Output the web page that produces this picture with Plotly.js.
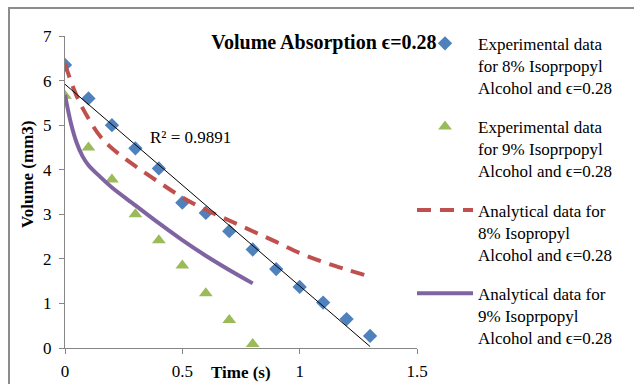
<!DOCTYPE html>
<html><head><meta charset="utf-8">
<script src="https://cdn.plot.ly/plotly-3.0.1.min.js"></script>
<style>html,body{margin:0;padding:0;background:#fff}#chart{width:634px;height:384px}</style>
</head><body><div id="chart"></div>
<script>
// Experimental data, 8% Isopropyl Alcohol
var xExp8 = [0,0.1,0.2,0.3,0.4,0.5,0.6,0.7,0.8,0.9,1.0,1.1,1.2,1.3];
var yExp8 = [6.35,5.6,5.0,4.48,4.03,3.26,3.03,2.62,2.21,1.77,1.37,1.02,0.65,0.27];
// Experimental data, 9% Isopropyl Alcohol
var xExp9 = [0,0.1,0.2,0.3,0.4,0.5,0.6,0.7,0.8];
var yExp9 = [5.66,4.5,3.78,3.0,2.42,1.85,1.23,0.63,0.09];
// Analytical data, 8%
var xAn8 = [0,0.05,0.1,0.15,0.2,0.3,0.4,0.5,0.6,0.7,0.8,0.9,1.0,1.1,1.2,1.3];
var yAn8 = [6.37,5.65,5.15,4.75,4.48,4.08,3.72,3.38,3.1,2.86,2.62,2.38,2.13,1.93,1.76,1.6];
// Analytical data, 9%
var xAn9 = [0,0.025,0.05,0.075,0.1,0.15,0.2,0.3,0.4,0.5,0.6,0.7,0.8];
var yAn9 = [5.68,5.05,4.6,4.3,4.1,3.84,3.6,3.2,2.8,2.42,2.07,1.75,1.45];

var names = [
  "Experimental data<br>for 8% Isoprpopyl<br>Alcohol and \u03f5=0.28",
  "Experimental data<br>for 9% Isoprpopyl<br>Alcohol and \u03f5=0.28",
  "Analytical data for<br>8% Isopropyl<br>Alcohol and \u03f5=0.28",
  "Analytical data for<br>9% Isoprpopyl<br>Alcohol and \u03f5=0.28"
];
var xTicks = [0,0.5,1,1.5];
var xTickText = ["0","0.5","1","1.5"];
var yTicks = [0,1,2,3,4,5,6,7];
var r2Text = "R\u00b2 = 0.9891";

// linear trendline (least squares) of the 8% experimental data
function linfit(xs, ys){
  var n = xs.length, mx=0, my=0;
  for (var i=0;i<n;i++){mx+=xs[i];my+=ys[i];}
  mx/=n; my/=n;
  var sxy=0,sxx=0;
  for (var i=0;i<n;i++){sxy+=(xs[i]-mx)*(ys[i]-my);sxx+=(xs[i]-mx)*(xs[i]-mx);}
  var b=sxy/sxx; return {a:my-b*mx,b:b};
}
var fit = linfit(xExp8, yExp8);
var xFit = [Math.min.apply(null,xExp8), Math.max.apply(null,xExp8)];
var yFit = xFit.map(function(x){return fit.a+fit.b*x;});

var FAM = 'Liberation Serif';

var traces = [
  {x:xExp8, y:yExp8, mode:'markers', name:names[0], legendgroup:'a', legendrank:1,
   marker:{symbol:'diamond', size:11, color:'#4F81BD'}},
  {x:xExp9, y:yExp9, mode:'markers', name:names[1], legendgroup:'b', legendrank:2,
   marker:{symbol:'triangle-up', size:12, color:'#9BBB59'}},
  {x:xAn8, y:yAn8, mode:'lines', name:names[2], legendgroup:'c', legendrank:3,
   line:{color:'#C0504D', width:4, dash:'14px,9px', shape:'spline'}},
  {x:xAn9, y:yAn9, mode:'lines', name:names[3], legendgroup:'d', legendrank:4,
   line:{color:'#8064A2', width:4, shape:'spline'}},
  {x:xFit, y:yFit, mode:'lines', line:{color:'#000', width:1}, showlegend:false, hoverinfo:'skip', legendgroup:'e'}
];

var axisCommon = {showgrid:false, zeroline:false, showline:true, linecolor:'#868686', linewidth:1,
  ticks:'outside', ticklen:5, tickcolor:'#868686', tickfont:{family:FAM, size:17, color:'#000'}, fixedrange:true};

var layout = {
  width:634, height:384,
  margin:{l:65, r:217, t:36, b:36},
  paper_bgcolor:'#fff', plot_bgcolor:'#fff',
  font:{family:FAM, size:17, color:'#000'},
  title:{text:'<b>Volume Absorption \u03f5=0.28</b>', font:{family:FAM, size:20, color:'#000'},
    x:0.511, xanchor:'center', xref:'container', y:1-42/384, yanchor:'middle', yref:'container'},
  xaxis:Object.assign({}, axisCommon, {range:[0,1.5], tickvals:xTicks, ticktext:xTickText, ticklabelstandoff:3}),
  yaxis:Object.assign({}, axisCommon, {range:[0,7], tickvals:yTicks, ticklabelstandoff:4}),
  legend:{x:1.0-5/352, xanchor:'left', y:1.02+4/312, yanchor:'top', valign:'top', tracegroupgap:14,
    itemwidth:56, maxheight:400, font:{family:FAM, size:17, color:'#000'}, bgcolor:'rgba(0,0,0,0)', traceorder:'grouped'},
  showlegend:true,
  annotations:[
    {text:'<b>Time (s)</b>', xref:'paper', yref:'paper', x:0.5, y:(348-372)/312, xanchor:'center', yanchor:'middle', showarrow:false, font:{family:FAM, size:17}},
    {text:'<b>Volume (mm3)</b>', xref:'paper', yref:'paper', x:(27-65)/352, y:(348-174)/312, xanchor:'center', yanchor:'middle', textangle:-90, showarrow:false, font:{family:FAM, size:17}},
    {text:r2Text, xref:'x', yref:'y', x:0.533, y:4.73, xanchor:'center', yanchor:'middle', showarrow:false, font:{family:FAM, size:17}}
  ],
  shapes:[
    {type:'rect', xref:'paper', yref:'paper', x0:(9-65)/352, x1:2, y0:-1, y1:(348-8)/312, line:{color:'#8C8C8C', width:2}, fillcolor:'rgba(0,0,0,0)', layer:'below'}
  ]
};

Plotly.newPlot('chart', traces, layout, {staticPlot:true, displayModeBar:false});
</script></body></html>
